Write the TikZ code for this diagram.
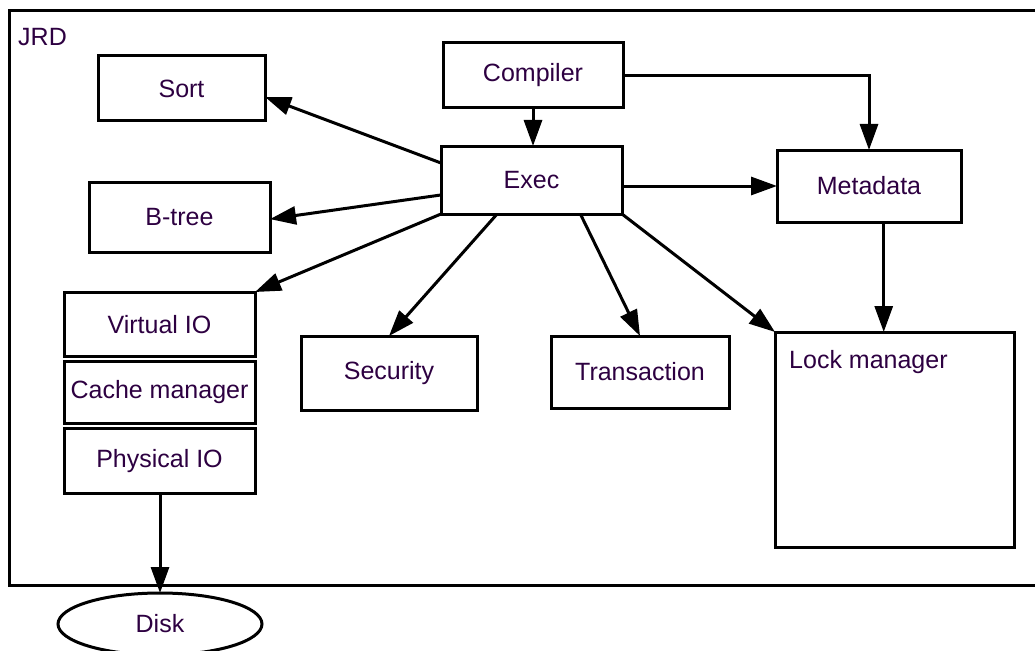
\documentclass[tikz,border=0pt]{standalone}
\usepackage{fontspec}
\setmainfont{Liberation Sans}
\usetikzlibrary{arrows.meta,calc,shapes.geometric}
\definecolor{ink}{RGB}{45,0,65}
\begin{document}
\begin{tikzpicture}[x=1pt,y=-1pt,
  every node/.style={text=ink, font=\fontsize{25}{30}\selectfont},
  box/.style={draw, line width=3pt, inner sep=0pt, outer sep=0pt},
  link/.style={line width=3pt, -{Triangle[length=26pt,width=18pt]}},
  ]
\useasboundingbox (0,0) rectangle (1035,650);

% JRD frame (open to the right)
\draw[line width=3pt] (1040,11) -- (9,11) -- (9,585) -- (1040,585);
\node[anchor=base west, inner sep=0pt] (jrd) at (18,46) {JRD};

% modules
\node[box, minimum width=167pt, minimum height=65pt] (sort) at (181.5,88.5) {Sort};
\node[box, minimum width=180pt, minimum height=65pt] (compiler) at (533,75.5) {Compiler};
\node[box, minimum width=181pt, minimum height=68pt] (exec) at (531.5,180) {Exec};
\node[box, minimum width=184pt, minimum height=72pt] (meta) at (869,186) {Metadata};
\node[box, minimum width=181pt, minimum height=70pt] (btree) at (179.5,217) {B-tree};

% I/O stack
\node[box, minimum width=191pt, minimum height=64.5pt] (vio) at (159.5,324.25) {Virtual IO};
\node[box, minimum width=191pt, minimum height=62pt] (cache) at (159.5,392.5) {Cache manager};
\node[box, minimum width=191pt, minimum height=64.5pt] (pio) at (159.5,460.75) {Physical IO};

\node[box, minimum width=176pt, minimum height=74pt] (security) at (389,373) {Security};
\node[box, minimum width=178pt, minimum height=72pt] (trans) at (640,372) {Transaction};
\node[box, minimum width=239pt, minimum height=215pt] (lock) at (894.5,439.5) {};
\node[anchor=base west, inner sep=0pt] (locktxt) at ($(lock.north west)+(14,36)$) {Lock manager};

\node[box, ellipse, minimum width=204pt, minimum height=62pt] (disk) at (160,624) {Disk};

% connectors
\draw[link] (compiler.south) -- (compiler.south |- exec.north);
\draw[link] (compiler.east) -| (meta.north);
\draw[link] (meta.west -| exec.east) -- (meta.west);
\coordinate (metafoot) at ($(meta.south west)!0.58!(meta.south east)$);
\draw[link] (metafoot) -- (metafoot |- lock.north);

\draw[link] ($(exec.north west)!0.25!(exec.south west)$) -- ($(sort.north east)!0.63!(sort.south east)$);
\draw[link] ($(exec.north west)!0.72!(exec.south west)$) -- ($(btree.north east)!0.53!(btree.south east)$);
\draw[link] (exec.south west) -- (vio.north east);
\draw[link] ($(exec.south west)!0.31!(exec.south east)$) -- (security.north);
\draw[link] ($(exec.south west)!0.77!(exec.south east)$) -- (trans.north);
\draw[link] (exec.south east) -- (lock.north west);

\draw[link] (pio.south -| disk.north) -- (disk.north);
\end{tikzpicture}
\end{document}
